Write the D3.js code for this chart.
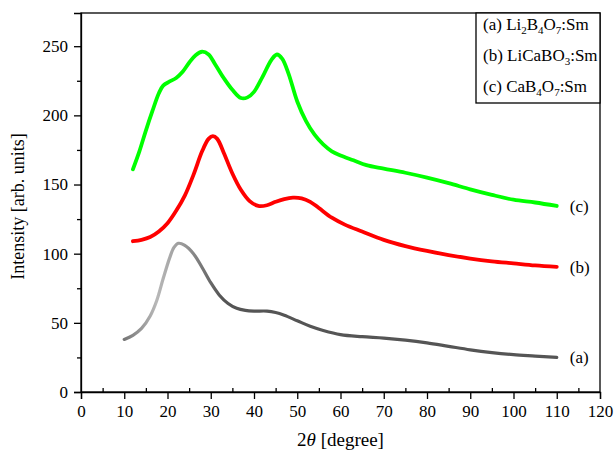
<!DOCTYPE html>
<html lang="en">
<head>
    <meta charset="UTF-8">
    <title>XRD</title>
    <script src="https://d3js.org/d3.v7.min.js"></script>
    <style>
        body { margin: 0; background: #fff; }
        svg text { font-family: 'Liberation Serif', 'Times New Roman', serif !important; fill: #000; }
    </style>
</head>
<body>
<svg id="chart" width="614" height="453"></svg>
<script>
    // data: [2theta, intensity]
    const seriesA = [[10,38],[12,41],[14,46],[16,55],[17.5,66],[19,82],[20.5,97],[21.5,104.5],[22.5,107.5],[24,106],[26,100],[28,90],[30,79],[32,70],[34,64],[36,60.5],[38,59],[40,58.5],[43,58.5],[45,57.5],[47,55.5],[50,51.5],[53,47.5],[56,44.5],[60,41.5],[65,40],[70,39],[75,37.5],[80,35.5],[85,33],[90,30.5],[95,28.5],[100,27],[105,26],[110,25]];
    const seriesB = [[12,109],[14,110],[16,112],[18,116],[20,122],[22,131],[24,142],[26,157],[28,174],[29.5,183],[30.5,185],[31.5,183],[33,173],[35,158],[37,146],[39,138],[41,134.5],[43,135],[45,137.5],[47,139.5],[49,140.5],[51,140],[53,137.5],[55,133],[58,126],[61,121],[65,116],[70,110],[75,105.5],[80,102],[85,99],[90,96.5],[95,94.5],[100,93],[105,91.5],[110,90.5]];
    const seriesC = [[12,161],[13.5,174],[15,189],[16.5,203],[18,216],[19,221.5],[20.5,224.5],[22,227],[23.5,231.5],[25,238],[26.5,243.5],[28,246],[29.5,244],[31,237],[33,227],[35,218.5],[37,212.5],[38.5,213],[40,217],[42,228],[44,240],[45.3,244],[46.5,241],[48,230],[50,210],[52,196],[54,186],[56,179],[58,174],[60,171],[63,167.5],[66,164],[70,161.5],[75,158.5],[80,155],[85,151],[90,146.5],[95,142.5],[100,139],[105,137],[110,134.5]];
    const xTicks = d3.range(0, 121, 10);
    const yTicks = d3.range(0, 251, 50);
    const legendItems = [
        {tag: '(a) ', parts: [['Li', 0], ['2', 1], ['B', 0], ['4', 1], ['O', 0], ['7', 1], [':Sm', 0]]},
        {tag: '(b) ', parts: [['LiCaBO', 0], ['3', 1], [':Sm', 0]]},
        {tag: '(c) ', parts: [['CaB', 0], ['4', 1], ['O', 0], ['7', 1], [':Sm', 0]]}
    ];

    const FONT = "'Liberation Serif', 'Times New Roman', serif";
    const svg = d3.select('#chart');
    const m = {left: 81, right: 14, top: 13, bottom: 61};
    const W = 614 - m.left - m.right;
    const H = 453 - m.top - m.bottom;

    const x = d3.scaleLinear().domain([0, 120]).range([0, W]);
    const y = d3.scaleLinear().domain([0, 274]).range([H, 0]);

    const g = svg.append('g').attr('transform', `translate(${m.left},${m.top})`);

    // gray curve shading
    const defs = svg.append('defs');
    const grad = defs.append('linearGradient')
        .attr('id', 'grayGrad')
        .attr('gradientUnits', 'userSpaceOnUse')
        .attr('x1', x(10)).attr('x2', x(40)).attr('y1', 0).attr('y2', 0);
    grad.append('stop').attr('offset', '0%').attr('stop-color', '#777');
    grad.append('stop').attr('offset', '25%').attr('stop-color', '#b8b8b8');
    grad.append('stop').attr('offset', '45%').attr('stop-color', '#9a9a9a');
    grad.append('stop').attr('offset', '75%').attr('stop-color', '#555');
    grad.append('stop').attr('offset', '100%').attr('stop-color', '#555');

    const line = d3.line()
        .x(d => x(d[0]))
        .y(d => y(d[1]))
        .curve(d3.curveCatmullRom.alpha(0.5));

    g.append('path').datum(seriesA)
        .attr('d', line).attr('fill', 'none')
        .attr('stroke', 'url(#grayGrad)').attr('stroke-width', 3.2).attr('stroke-linecap', 'round');
    g.append('path').datum(seriesB)
        .attr('d', line).attr('fill', 'none')
        .attr('stroke', '#ff0000').attr('stroke-width', 3.8).attr('stroke-linecap', 'round');
    g.append('path').datum(seriesC)
        .attr('d', line).attr('fill', 'none')
        .attr('stroke', '#00ff00').attr('stroke-width', 3.8).attr('stroke-linecap', 'round');

    // axes
    g.append('g').attr('transform', `translate(0,${H})`)
        .call(d3.axisBottom(x).tickValues(xTicks).tickSize(7).tickPadding(6));
    g.append('g').attr('transform', `translate(0,${H})`)
        .call(d3.axisBottom(x).tickValues(d3.range(5, 120, 10)).tickSize(-4).tickFormat(''))
        .call(a => a.select('.domain').remove());
    g.append('g')
        .call(d3.axisLeft(y).tickValues(yTicks).tickSize(7).tickPadding(6));
    g.append('g')
        .call(d3.axisLeft(y).tickValues(d3.range(25, 274, 50)).tickSize(4).tickFormat(''))
        .call(a => a.select('.domain').remove());

    svg.selectAll('g[font-family]').attr('font-family', FONT).attr('font-size', 17);
    svg.selectAll('.tick text').attr('font-size', 17).style('font-family', FONT);
    svg.selectAll('.domain, .tick line').attr('stroke', '#000').attr('stroke-width', 1.3);

    // frame
    g.append('rect').attr('width', W).attr('height', H)
        .attr('fill', 'none').attr('stroke', '#000').attr('stroke-width', 1.3);

    // axis titles
    svg.append('text')
        .attr('x', m.left + x(60)).attr('y', 446)
        .attr('text-anchor', 'middle').attr('font-size', 19)
        .style('font-family', FONT)
        .html('2<tspan font-style="italic">θ</tspan> [degree]');
    svg.append('text')
        .attr('transform', `translate(24,${m.top + H / 2 + 4}) rotate(-90)`)
        .attr('text-anchor', 'middle').attr('font-size', 18)
        .style('font-family', FONT)
        .text('Intensity [arb. units]');

    // legend box
    const lg = svg.append('g');
    lg.append('rect')
        .attr('x', 476).attr('y', m.top).attr('width', 600 - 476).attr('height', 90)
        .attr('fill', '#fff').attr('stroke', '#000').attr('stroke-width', 1.3);
    legendItems.forEach((item, i) => {
        const t = lg.append('text').attr('x', 483).attr('y', 30 + i * 31)
            .attr('font-size', 17).style('font-family', FONT);
        t.append('tspan').text(item.tag);
        item.parts.forEach(p => {
            t.append('tspan')
                .attr('font-size', p[1] ? 11 : 17)
                .attr('dy', p[1] ? 4 : -4 * (t.selectAll('tspan').size() > 1 && !p[1] && t.node().lastChild.previousSibling && t.node().lastChild.getAttribute ? 0 : 0))
                .text(p[0]);
        });
        // restore baseline after each subscript
        let shift = 0;
        t.selectAll('tspan').each(function(d, j) {
            const sub = +d3.select(this).attr('font-size') === 11;
            const dy = sub ? 4 - shift : -shift;
            d3.select(this).attr('dy', dy);
            shift = sub ? 4 : 0;
        });
    });

    // curve tags
    const tags = [['(a)', seriesA], ['(b)', seriesB], ['(c)', seriesC]];
    tags.forEach(([lab, s]) => {
        const last = s[s.length - 1];
        g.append('text')
            .attr('x', x(last[0]) + 13).attr('y', y(last[1]) + 6)
            .attr('font-size', 17).style('font-family', FONT).text(lab);
    });
</script>
</body>
</html>
